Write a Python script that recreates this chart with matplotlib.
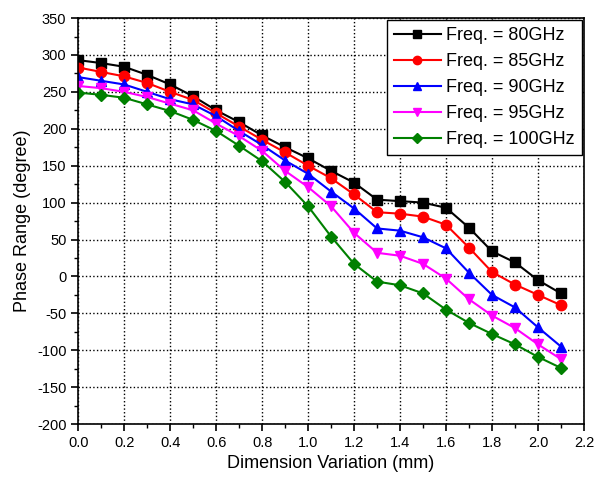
from matplotlib import pyplot as plt
from matplotlib.ticker import MultipleLocator, FormatStrFormatter

plt.rcParams['font.family'] = ['Liberation Sans', 'DejaVu Sans']
plt.rcParams['axes.unicode_minus'] = False

dim = [0.0, 0.1, 0.2, 0.3, 0.4, 0.5, 0.6, 0.7, 0.8, 0.9, 1.0,
       1.1, 1.2, 1.3, 1.4, 1.5, 1.6, 1.7, 1.8, 1.9, 2.0, 2.1]
f80 = [293, 289, 284, 273, 260, 244, 225, 209, 191, 175, 160,
       143, 127, 104, 102, 100, 93, 66, 34, 19, -5, -23]
f85 = [283, 277, 271, 262, 250, 239, 221, 203, 185, 168, 150,
       133, 111, 87, 85, 81, 70, 39, 6, -11, -25, -39]
f90 = [270, 265, 260, 250, 240, 233, 217, 197, 178, 157, 139,
       115, 92, 65, 62, 53, 38, 5, -25, -42, -69, -95]
f95 = [258, 255, 250, 243, 234, 225, 207, 190, 170, 143, 121,
       95, 59, 32, 28, 17, -3, -31, -53, -70, -92, -112]
f100 = [249, 246, 242, 233, 224, 212, 197, 177, 156, 128, 95,
        54, 17, -7, -12, -23, -45, -63, -78, -92, -109, -124]
labels = ["Freq. = 80GHz", "Freq. = 85GHz", "Freq. = 90GHz",
          "Freq. = 95GHz", "Freq. = 100GHz"]

fig = plt.figure(figsize=(6.02, 4.88), dpi=100)
ax = fig.add_axes([0.13, 0.131, 0.84, 0.832])

styles = [("black", "s"), ("red", "o"), ("blue", "^"), ("magenta", "v"), ("green", "D")]
for vals, (col, mk), lab in zip([f80, f85, f90, f95, f100], styles, labels):
    ms = 6.5 if mk == "D" else 7.5
    ax.plot(dim, vals, color=col, marker=mk, markersize=ms, linewidth=1.5, label=lab)

ax.set_xlim(0, 2.2)
ax.set_ylim(-200, 350)
ax.xaxis.set_major_locator(MultipleLocator(0.2))
ax.xaxis.set_minor_locator(MultipleLocator(0.1))
ax.xaxis.set_major_formatter(FormatStrFormatter('%.1f'))
ax.yaxis.set_major_locator(MultipleLocator(50))
ax.yaxis.set_minor_locator(MultipleLocator(25))
ax.tick_params(which='major', direction='out', length=5, width=1.2, labelsize=10.5)
ax.tick_params(which='minor', direction='out', length=3, width=1.0)
ax.grid(True, which='major', color='black', linestyle=':', linewidth=1.0)
for s in ax.spines.values():
    s.set_linewidth(1.2)

ax.set_xlabel("Dimension Variation (mm)", fontsize=13)
ax.set_ylabel("Phase Range (degree)", fontsize=13)

leg = ax.legend(loc='upper right', fontsize=13, fancybox=False, framealpha=1,
                edgecolor='black', borderaxespad=0.1, handlelength=2.6,
                handletextpad=0.3, labelspacing=0.5, borderpad=0.4, markerscale=0.8)
leg.get_frame().set_linewidth(1.0)

plt.savefig('out.png', dpi=100)
